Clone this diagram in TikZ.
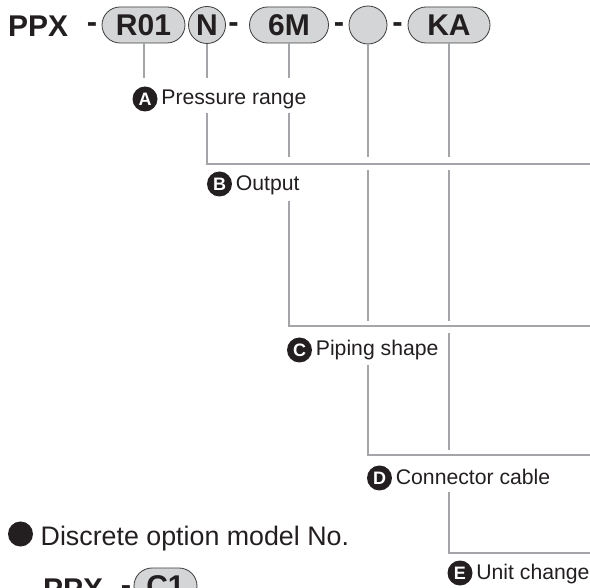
\documentclass[tikz,border=0pt]{standalone}
\usepackage{fontspec}
\setmainfont{Liberation Sans}
\usetikzlibrary{calc}
\definecolor{linegray}{HTML}{A3A5A8}
\definecolor{capfill}{HTML}{D4D5D6}
\definecolor{capdraw}{HTML}{3C3C3C}
\definecolor{ink}{HTML}{231F20}
\begin{document}
\begin{tikzpicture}[x=1pt,y=-1pt,
  bigtext/.style={font=\fontsize{30}{30}\selectfont\bfseries, text=ink, inner sep=0},
  capsule/.style={draw=capdraw, line width=0.8pt, fill=capfill, rounded corners=18pt,
    minimum height=36pt, inner sep=0, font=\fontsize{30}{30}\selectfont\bfseries, text=ink},
  ring/.style={circle, draw=capdraw, line width=0.8pt, fill=capfill, minimum size=37pt,
    inner sep=0, font=\fontsize{30}{30}\selectfont\bfseries, text=ink},
  conn/.style={draw=linegray, line width=2pt},
  badge/.style={circle, fill=ink, minimum size=25pt, inner sep=0, text=white,
    font=\fontsize{18}{18}\selectfont\bfseries},
  lbl/.style={anchor=base west, inner sep=0, font=\fontsize{21.2}{21.2}\selectfont, text=ink},
  dashtext/.style={anchor=base, inner sep=0, font=\fontsize{31}{31}\selectfont\bfseries, text=ink}
]
\useasboundingbox (0,0) rectangle (590,588);
\clip (0,0) rectangle (590,588);

% top row
\node[bigtext, anchor=base west] (ppx) at (8,37) {PPX};
\node[dashtext] (d1) at (92,33) {-};
\node[capsule, minimum width=83pt] (r01) at (143.5,25) {R01};
\node[ring] (n) at (207,25) {N};
\node[dashtext] (d2) at (233.5,33) {-};
\node[capsule, minimum width=79pt] (sixm) at (289,25) {6M};
\node[dashtext] (d3) at (339,33) {-};
\node[ring, minimum size=38pt] (blank) at (368,25) {};
\node[dashtext] (d4) at (397.5,33) {-};
\node[capsule, minimum width=82pt] (ka) at (449,25) {KA};

% labels
\node[badge] (ba) at (145,99) {A};
\node[lbl] (ta) at ($(ba.east)+(3.5,6)$) {Pressure range};
\node[badge] (bb) at (219.5,184) {B};
\node[lbl] (tb) at ($(bb.east)+(3.5,6.5)$) {Output};
\node[badge] (bc) at (299.5,350) {C};
\node[lbl] (tc) at ($(bc.east)+(3.5,6)$) {Piping shape};
\node[badge] (bd) at (379.5,478) {D};
\node[lbl] (td) at ($(bd.east)+(3.5,6.5)$) {Connector cable};
\node[badge] (be) at (460,573) {E};
\node[lbl] (te) at ($(be.east)+(3.5,6.5)$) {Unit change};

% level coordinates
\coordinate (gA) at (0,78);
\coordinate (gAb) at (0,113);
\coordinate (hB) at (595,164);
\coordinate (aB) at (0,157.5);
\coordinate (bB) at (0,170);
\coordinate (bBl) at (0,201);
\coordinate (hC) at (595,326);
\coordinate (aC) at (0,321);
\coordinate (bC) at (0,333);
\coordinate (bCl) at (0,365);
\coordinate (hD) at (595,455);
\coordinate (aD) at (0,450);
\coordinate (bDl) at (0,492);
\coordinate (hE) at (595,553);

% connectors
\draw[conn] (r01.south) -- (r01.south |- gA);
\draw[conn] (n.south) -- (n.south |- gA);
\draw[conn] (n.south |- gAb) -- (n.south |- hB) -- (hB);
\draw[conn] (sixm.south) -- (sixm.south |- gA);
\draw[conn] (sixm.south |- gAb) -- (sixm.south |- aB);
\draw[conn] (sixm.south |- bBl) -- (sixm.south |- hC) -- (hC);
\draw[conn] (blank.south) -- (blank.south |- aB);
\draw[conn] (blank.south |- bB) -- (blank.south |- aC);
\draw[conn] (blank.south |- bCl) -- (blank.south |- hD) -- (hD);
\draw[conn] (ka.south) -- (ka.south |- aB);
\draw[conn] (ka.south |- bB) -- (ka.south |- aC);
\draw[conn] (ka.south |- bC) -- (ka.south |- aD);
\draw[conn] (ka.south |- bDl) -- (ka.south |- hE) -- (hE);

% discrete option
\node[circle, fill=ink, minimum size=25pt, inner sep=0] (bullet) at (20.5,534) {};
\node[anchor=base west, inner sep=0, font=\fontsize{26.8}{26.8}\selectfont, text=ink] (disc) at (40.5,545) {Discrete option model No.};

% bottom row
\node[bigtext, anchor=base west] (ppx2) at (43,599) {PPX};
\node[dashtext] (d5) at (126,595) {-};
\node[capsule, minimum width=63pt] (c1) at (165.5,586) {C1};
\end{tikzpicture}
\end{document}
